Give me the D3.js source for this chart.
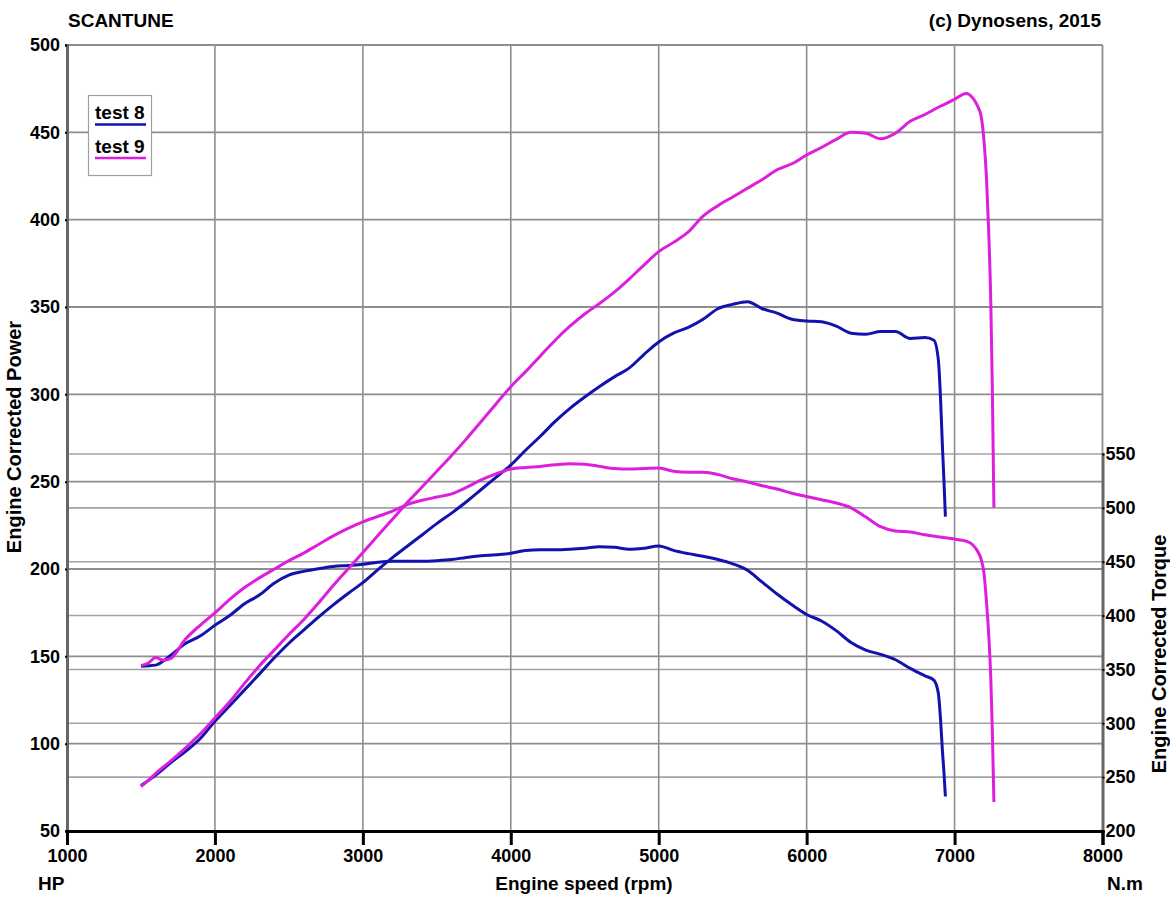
<!DOCTYPE html>
<html>
<head>
<meta charset="utf-8">
<script src="https://cdn.jsdelivr.net/npm/d3@7"></script>
<style>
html,body{margin:0;padding:0;background:#fff;}
svg text{font-family:"Liberation Sans",Arial,sans-serif;font-weight:bold;fill:#000;}
</style>
</head>
<body>
<svg id="chart" width="1170" height="904"></svg>
<script>
// ---- data ----
const rpmTicks = [1000, 2000, 3000, 4000, 5000, 6000, 7000, 8000];
const hpTicks = [50, 100, 150, 200, 250, 300, 350, 400, 450, 500];
const nmTicks = [200, 250, 300, 350, 400, 450, 500, 550];
const seriesNames = ["test 8", "test 9"];

const rpm8 = [1500,1600,1700,1800,1900,2000,2100,2200,2300,2400,2500,2600,2700,2800,2900,3000,3100,3200,3300,3400,3500,3600,3700,3800,3900,4000,4100,4200,4300,4400,4500,4600,4700,4800,4900,5000,5100,5200,5300,5400,5500,5600,5700,5800,5900,6000,6100,6200,6300,6400,6500,6600,6700,6800,6860,6890,6905,6918,6928,6938];
const power8 = [76,82,89,95.5,102.8,112.8,121.7,130.8,139.8,149,157.5,165,172.5,179.5,186,192.2,199.5,206.5,213,219.5,226,232,238.5,245.5,252.5,259.5,268,276,284.5,292,298.5,304.5,310,315,322.8,330,335,338.3,343,349,351.5,353,349,346.5,343,342,341.5,339,335,334.4,336,336,332,332.5,331,320,298,270,251,230];
const torque8 = [353,354,363,374,381,391,400,411,419,430,437.5,441,443.5,445.5,446.5,447.6,449.5,450.5,450.5,450.5,451,452,454,455.5,456.5,457.8,460.5,461,461,461.5,462.5,464,463.5,461.5,462.5,464.6,460.5,457.5,455,452,448,442,431,420,410,401,395,386,375,368,364,359,351,344,340,328,304,274,255,232];

const rpm9 = [1500,1550,1600,1650,1700,1800,1900,2000,2100,2200,2300,2400,2500,2600,2700,2800,2900,3000,3100,3200,3300,3400,3500,3600,3700,3800,3900,4000,4100,4200,4300,4400,4500,4600,4700,4800,4900,5000,5100,5200,5300,5400,5500,5600,5700,5800,5900,6000,6100,6200,6300,6400,6500,6600,6700,6800,6900,7000,7050,7080,7120,7150,7180,7200,7215,7230,7245,7255,7266];
const power9 = [75.5,79,83,86.5,90,97.5,105.5,114.7,124,134.5,144.5,153.5,162.5,171,180.5,190.5,200,209.4,219,228.5,238,247,256,265,274.5,284.5,294.5,304.4,313,322,331,339,346,352,358.5,366,374,381.7,387,393,402,408,413,418,423,428.6,432,437,441.3,446,450,449.5,446.3,449.5,456.3,460.2,464.8,468.9,471.5,472.3,470,466,459,444,425,395,352,305,235];
const torque9 = [353.5,356,361,358.5,360,378,391,402.5,415,426,435,443,451,458,466,474,481,487,492,497,503,507,510,513,519,526,531.5,536,537.5,538.5,540,541,540.5,538.5,536.5,536,536.5,537,534,533,533,531,527,524,520.5,517.5,513.5,510.5,507.5,504.5,500,491.5,482.5,478.5,477.5,475,473,471,470,469,466,461,452,438,414,384,341,295,227];

const colors = ["#1212ad", "#dd1fdd"];

// ---- layout ----
const svg = d3.select("#chart");
const L = 67, R = 1102.5, T = 45, B = 831;

const x = d3.scaleLinear().domain([1000, 8000]).range([L, R]);
const yHP = d3.scaleLinear().domain([50, 500]).range([B, T]);
const yNm = d3.scaleLinear().domain([200, 550]).range([B, 454]);

// grid: torque lines (lighter)
svg.append("g").selectAll("line").data(nmTicks.filter(d => d > 200)).join("line")
  .attr("x1", L).attr("x2", R).attr("y1", d => yNm(d)).attr("y2", d => yNm(d))
  .attr("stroke", "#a3a3a3").attr("stroke-width", 1.6);
// grid: HP lines
svg.append("g").selectAll("line").data(hpTicks.filter(d => d > 50)).join("line")
  .attr("x1", L).attr("x2", R).attr("y1", d => yHP(d)).attr("y2", d => yHP(d))
  .attr("stroke", "#8e8e8e").attr("stroke-width", 1.8);
// grid: vertical
svg.append("g").selectAll("line").data(rpmTicks.filter(d => d > 1000 && d < 8000)).join("line")
  .attr("x1", d => x(d)).attr("x2", d => x(d)).attr("y1", T).attr("y2", B)
  .attr("stroke", "#8e8e8e").attr("stroke-width", 1.6);
// right border (upper, thin)
svg.append("line").attr("x1", R).attr("x2", R).attr("y1", T).attr("y2", yNm(550))
  .attr("stroke", "#8e8e8e").attr("stroke-width", 1.8);

// left axis
const gL = svg.append("g").attr("transform", `translate(${L},0)`)
  .call(d3.axisLeft(yHP).tickValues(hpTicks).tickSize(2).tickPadding(5));
gL.select(".domain").attr("stroke", "#666").attr("stroke-width", 3);
gL.selectAll(".tick line").attr("stroke", "#000").attr("stroke-width", 2);
gL.selectAll(".tick text").style("font-size", "18px").attr("fill", "#000");

// right axis
const gR = svg.append("g").attr("transform", `translate(${R},0)`)
  .call(d3.axisRight(yNm).tickValues(nmTicks).tickSize(2).tickPadding(1));
gR.select(".domain").attr("stroke", "#666").attr("stroke-width", 3);
gR.selectAll(".tick line").attr("stroke", "#000").attr("stroke-width", 2);
gR.selectAll(".tick text").style("font-size", "18px").attr("fill", "#000");

// bottom axis
const gB = svg.append("g").attr("transform", `translate(0,${B})`)
  .call(d3.axisBottom(x).tickValues(rpmTicks).tickSize(14).tickPadding(4).tickFormat(d3.format("d")));
gB.select(".domain").attr("stroke", "#000").attr("stroke-width", 3);
gB.selectAll(".tick line").attr("stroke", "#000").attr("stroke-width", 3);
gB.selectAll(".tick text").style("font-size", "18px").attr("fill", "#000");

// curves
const line = d3.line().curve(d3.curveMonotoneX);
const curves = [
  {rpm: rpm8, vals: power8, y: yHP, c: colors[0]},
  {rpm: rpm8, vals: torque8, y: yNm, c: colors[0]},
  {rpm: rpm9, vals: power9, y: yHP, c: colors[1]},
  {rpm: rpm9, vals: torque9, y: yNm, c: colors[1]}
];
svg.append("g").selectAll("path").data(curves).join("path")
  .attr("d", s => line(s.rpm.map((r, i) => [x(r), s.y(s.vals[i])])))
  .attr("fill", "none").attr("stroke", s => s.c).attr("stroke-width", 3)
  .attr("stroke-linejoin", "round").attr("stroke-linecap", "butt");

// legend
const lg = svg.append("g");
lg.append("rect").attr("x", 88.5).attr("y", 95.5).attr("width", 63).attr("height", 80)
  .attr("fill", "#fff").attr("stroke", "#a0a0a0").attr("stroke-width", 1.2);
seriesNames.forEach((n, i) => {
  lg.append("text").attr("x", 95).attr("y", 119 + i * 33.5).style("font-size", "19px").text(n);
  lg.append("line").attr("x1", 95).attr("x2", 146).attr("y1", 124.5 + i * 33.5).attr("y2", 124.5 + i * 33.5)
    .attr("stroke", colors[i]).attr("stroke-width", 2.6);
});

// titles
svg.append("text").attr("x", 68).attr("y", 27).style("font-size", "19px").text("SCANTUNE");
svg.append("text").attr("x", 1101).attr("y", 27).attr("text-anchor", "end").style("font-size", "19px").text("(c) Dynosens, 2015");
svg.append("text").attr("x", 38).attr("y", 890).style("font-size", "19px").text("HP");
svg.append("text").attr("x", 584).attr("y", 890).attr("text-anchor", "middle").style("font-size", "19px").text("Engine speed (rpm)");
svg.append("text").attr("x", 1107).attr("y", 890).style("font-size", "19px").text("N.m");
svg.append("text").attr("transform", "translate(21,437) rotate(-90)").attr("text-anchor", "middle")
  .style("font-size", "20px").text("Engine Corrected Power");
svg.append("text").attr("transform", "translate(1166,654) rotate(-90)").attr("text-anchor", "middle")
  .style("font-size", "20px").text("Engine Corrected Torque");
</script>
</body>
</html>
